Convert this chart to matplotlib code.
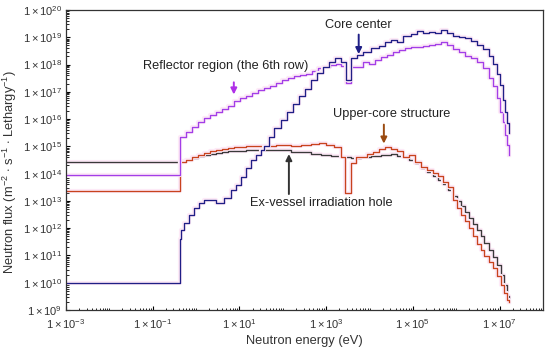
import numpy as np
import matplotlib
matplotlib.use("Agg")
import matplotlib.pyplot as plt
from matplotlib.ticker import FuncFormatter, LogLocator, NullFormatter, FixedLocator
import matplotlib.patheffects as pe

plt.rcParams['font.family'] = ['Liberation Sans', 'DejaVu Sans']
plt.rcParams['mathtext.fontset'] = 'custom'
plt.rcParams['mathtext.rm'] = 'Liberation Sans'
plt.rcParams['mathtext.it'] = 'Liberation Sans:italic'

# log10 of neutron energy (eV) at group edges, log10 of flux for each group
core_logE = [-3, -0.37, -0.35, -0.28, -0.17, -0.05, 0.06, 0.18, 0.46, 0.64, 0.80, 0.92, 1.03,
             1.15, 1.26, 1.38, 1.49, 1.56, 1.68, 1.79, 1.95, 2.09, 2.23, 2.37, 2.51, 2.65,
             2.78, 2.92, 3.06, 3.20, 3.34, 3.46, 3.57, 3.71, 3.84, 4.03, 4.21, 4.35, 4.49,
             4.63, 4.76, 4.95, 5.09, 5.23, 5.36, 5.50, 5.64, 5.78, 5.92, 6.06, 6.19, 6.33,
             6.47, 6.61, 6.75, 6.84, 6.93, 7.00, 7.07, 7.12, 7.16, 7.21]
core_logF = [10.0, 11.61, 11.94, 12.2, 12.49, 12.75, 12.93, 13.04, 12.93, 13.1, 13.4, 13.59,
             13.88, 14.2, 14.5, 14.7, 14.87, 15.02, 15.35, 15.68, 15.97, 16.26, 16.56, 16.85,
             17.11, 17.44, 17.69, 17.91, 18.10, 18.24, 18.10, 17.44, 18.24, 18.35, 18.46,
             18.61, 18.68, 18.83, 18.90, 18.83, 19.05, 19.12, 19.23, 19.16, 19.19, 19.16,
             19.27, 19.16, 19.05, 19.0, 18.97, 18.86, 18.72, 18.57, 18.32, 18.03, 17.66,
             17.25, 16.70, 16.26, 15.86, 15.49]

refl_logE = [-3, -0.37, -0.24, -0.10, 0.04, 0.18, 0.32, 0.46, 0.59, 0.73, 0.87, 1.01, 1.15,
             1.29, 1.42, 1.56, 1.70, 1.84, 1.98, 2.12, 2.25, 2.39, 2.53, 2.67, 2.81, 2.94,
             3.08, 3.22, 3.34, 3.45, 3.57, 3.71, 3.84, 3.98, 4.12, 4.26, 4.40, 4.53, 4.67,
             4.81, 4.95, 5.09, 5.23, 5.36, 5.50, 5.64, 5.78, 5.92, 6.06, 6.19, 6.33, 6.47,
             6.61, 6.75, 6.84, 6.93, 7.00, 7.07, 7.12, 7.16, 7.21]
refl_logF = [13.95, 15.35, 15.53, 15.71, 15.90, 16.04, 16.15, 16.26, 16.37, 16.48, 16.67,
             16.78, 16.85, 16.96, 17.07, 17.14, 17.22, 17.33, 17.44, 17.51, 17.58, 17.62,
             17.66, 17.77, 17.88, 17.91, 17.99, 18.02, 17.95, 17.33, 17.91, 17.91, 18.10,
             18.02, 18.17, 18.28, 18.35, 18.46, 18.53, 18.61, 18.64, 18.64, 18.68, 18.72,
             18.75, 18.83, 18.72, 18.57, 18.46, 18.32, 18.24, 18.10, 17.88, 17.51, 17.22,
             16.78, 16.26, 15.90, 15.42, 15.05, 14.69]

upper_logE = [-3, -0.37, -0.24, -0.10, 0.04, 0.18, 0.32, 0.46, 0.59, 0.73, 0.87, 1.15, 1.49,
              1.84, 2.18, 2.41, 2.64, 2.83, 2.99, 3.18, 3.34, 3.43, 3.57, 3.68, 3.80, 3.94,
              4.07, 4.21, 4.35, 4.49, 4.63, 4.76, 4.90, 5.04, 5.18, 5.32, 5.46, 5.57, 5.69,
              5.80, 5.92, 6.01, 6.10, 6.19, 6.29, 6.38, 6.47, 6.56, 6.65, 6.75, 6.84, 6.93,
              7.02, 7.09, 7.16, 7.21]
upper_logF = [13.37, 14.43, 14.51, 14.62, 14.69, 14.76, 14.84, 14.87, 14.91, 14.95, 14.98,
              15.02, 15.02, 15.05, 15.02, 15.05, 15.09, 15.13, 15.05, 14.98, 14.62, 13.30,
              14.40, 14.62, 14.62, 14.73, 14.80, 14.91, 14.98, 14.91, 14.84, 14.62, 14.69,
              14.43, 14.25, 14.14, 14.03, 13.92, 13.70, 13.52, 13.04, 12.75, 12.49, 12.27,
              12.01, 11.72, 11.43, 11.21, 10.99, 10.77, 10.55, 10.26, 9.93, 9.63, 9.38, 9.30]

exv_logE = [-3, -0.37, -0.24, -0.10, 0.04, 0.18, 0.32, 0.46, 0.59, 0.73, 0.87, 1.15, 1.49,
            1.84, 2.18, 2.41, 2.64, 2.88, 3.11, 3.34, 3.57, 3.80, 4.03, 4.26, 4.49, 4.63,
            4.76, 4.90, 5.04, 5.18, 5.32, 5.46, 5.57, 5.69, 5.80, 5.92, 6.01, 6.10, 6.19,
            6.29, 6.38, 6.47, 6.56, 6.65, 6.75, 6.84, 6.93, 7.02, 7.09, 7.16, 7.21]
exv_logF = [14.42, 14.45, 14.51, 14.58, 14.65, 14.69, 14.73, 14.76, 14.80, 14.84, 14.84,
            14.87, 14.87, 14.87, 14.80, 14.80, 14.73, 14.69, 14.65, 14.62, 14.58, 14.62,
            14.65, 14.69, 14.73, 14.65, 14.62, 14.51, 14.40, 14.21, 14.07, 13.92, 13.77,
            13.63, 13.41, 13.19, 13.00, 12.82, 12.60, 12.38, 12.16, 11.94, 11.72, 11.47,
            11.21, 10.95, 10.66, 10.29, 9.93, 9.52, 9.30]

x_label_exps = [-3, -1, 1, 3, 5, 7]
y_label_exps = list(range(9, 21))

series = [
    (exv_logE, exv_logF, '#3a3a3a'),
    (upper_logE, upper_logF, '#c8431e'),
    (refl_logE, refl_logF, '#a23ee8'),
    (core_logE, core_logF, '#1f1f86'),
]

fig = plt.figure(figsize=(5.5, 3.5), dpi=100)
ax = fig.add_axes([66/550, 40/350, (543-66)/550, 300/350])

halo = [pe.Stroke(linewidth=3.0, foreground='#fdeaf7'), pe.Normal()]
for lx, ly, col in series:
    E = 10.0 ** np.array(lx)
    F = 10.0 ** np.array(ly)
    ax.step(E, F, where='post', color=col, lw=0.95, path_effects=halo)

ax.set_xscale('log')
ax.set_yscale('log')
ax.set_xlim(1e-3, 1e8)
ax.set_ylim(1e9, 1e20)

lab = lambda v, p: r'$1\times10^{%d}$' % int(round(np.log10(v)))
ax.xaxis.set_major_locator(FixedLocator([10.0 ** e for e in x_label_exps]))
ax.xaxis.set_major_formatter(FuncFormatter(lab))
ax.xaxis.set_minor_locator(LogLocator(base=10, subs=np.arange(1, 10), numticks=200))
ax.xaxis.set_minor_formatter(NullFormatter())
ax.yaxis.set_major_locator(FixedLocator([10.0 ** e for e in y_label_exps]))
ax.yaxis.set_major_formatter(FuncFormatter(lab))
ax.yaxis.set_minor_locator(LogLocator(base=10, subs=np.arange(2, 10), numticks=200))
ax.yaxis.set_minor_formatter(NullFormatter())

ax.tick_params(axis='both', which='major', direction='in', length=3, width=0.8,
               labelsize=8, labelcolor='#333333')
ax.tick_params(axis='x', which='major', pad=5)
ax.tick_params(axis='y', which='major', pad=3)
ax.tick_params(axis='both', which='minor', direction='in', length=1.8, width=0.6)
for s in ax.spines.values():
    s.set_linewidth(0.9)
    s.set_color('#333333')

ax.set_xlabel('Neutron energy (eV)', fontsize=9.3, color='#333333', labelpad=3)
ax.set_ylabel(r'Neutron flux (m$^{-2}$ $\cdot$ s$^{-1}$ $\cdot$ Lethargy$^{-1}$)',
              fontsize=9.3, color='#333333')
ax.yaxis.set_label_coords(-0.098, 0.46)

tkw = dict(fontsize=9.2, color='#222222', ha='center', va='center')
ax.text(10**3.74, 10**19.45, 'Core center', **tkw)
ax.annotate('', xy=(10**3.75, 10**18.28), xytext=(10**3.75, 10**19.2),
            arrowprops=dict(arrowstyle='-|>', color='#1f1f86', lw=1.4, mutation_scale=9))
ax.text(10**0.69, 10**17.95, 'Reflector region (the 6th row)', **tkw)
ax.annotate('', xy=(10**0.87, 10**16.8), xytext=(10**0.87, 10**17.45),
            arrowprops=dict(arrowstyle='-|>', color='#b030e8', lw=1.4, mutation_scale=9))
ax.text(10**4.51, 10**16.19, 'Upper-core structure', **tkw)
ax.annotate('', xy=(10**4.33, 10**15.0), xytext=(10**4.33, 10**15.9),
            arrowprops=dict(arrowstyle='-|>', color='#9a4a10', lw=1.4, mutation_scale=9))
ax.text(10**2.88, 10**12.93, 'Ex-vessel irradiation hole', **tkw)
ax.annotate('', xy=(10**2.14, 10**14.82), xytext=(10**2.14, 10**13.15),
            arrowprops=dict(arrowstyle='-|>', color='#333333', lw=1.4, mutation_scale=9))

fig.savefig('out.png', dpi=100)
